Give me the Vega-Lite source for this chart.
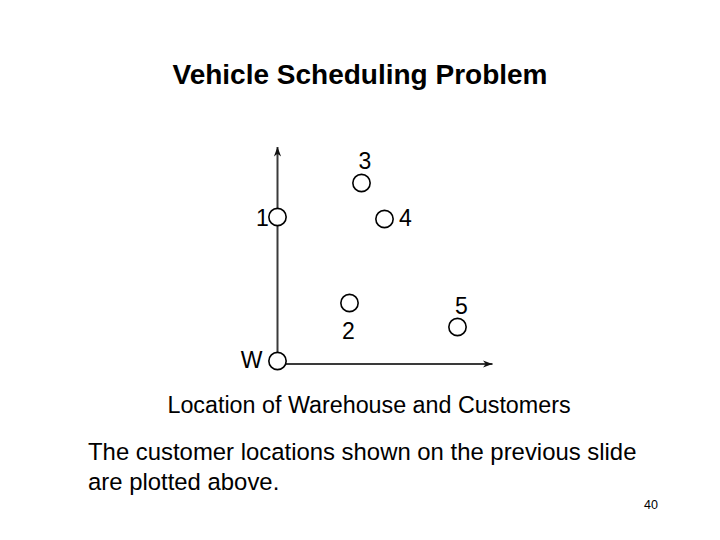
{
  "$schema": "https://vega.github.io/schema/vega-lite/v6.json",
  "width": 720,
  "height": 540,
  "autosize": {"type": "fit", "contains": "padding"},
  "padding": 0,
  "background": "white",
  "config": {"view": {"stroke": null}, "font": "Liberation Sans"},
  "datasets": {
    "points": [
      {"id": "W", "x": 0, "y": 0},
      {"id": "1", "x": 0, "y": 144},
      {"id": "2", "x": 72, "y": 58},
      {"id": "3", "x": 84, "y": 178},
      {"id": "4", "x": 107, "y": 142},
      {"id": "5", "x": 180, "y": 34}
    ],
    "axes": [
      {"axis": "y", "x0": 0, "y0": -3, "x1": 0, "y1": 214},
      {"axis": "x", "x0": 0, "y0": -3, "x1": 215, "y1": -3}
    ]
  },
  "layer": [
    {
      "data": {"name": "axes"},
      "mark": {"type": "rule", "color": "#3a3a3a", "strokeWidth": 2},
      "encoding": {
        "x": {"field": "x0", "type": "quantitative", "scale": {"domain": [-277.5, 442.5], "nice": false, "zero": false}, "axis": null},
        "y": {"field": "y0", "type": "quantitative", "scale": {"domain": [-179, 361], "nice": false, "zero": false}, "axis": null},
        "x2": {"field": "x1"},
        "y2": {"field": "y1"}
      }
    },
    {
      "data": {"name": "axes"},
      "mark": {"type": "point", "shape": "M0,0 L-0.38,1 L0,0.72 L0.38,1 Z", "filled": true, "color": "#111111", "size": 360, "opacity": 1},
      "encoding": {
        "x": {"field": "x1", "type": "quantitative", "scale": {"domain": [-277.5, 442.5], "nice": false, "zero": false}, "axis": null},
        "y": {"field": "y1", "type": "quantitative", "scale": {"domain": [-179, 361], "nice": false, "zero": false}, "axis": null},
        "angle": {"condition": {"test": "datum.axis === 'x'", "value": 90}, "value": 0}
      }
    },
    {
      "data": {"name": "points"},
      "mark": {"type": "point", "shape": "circle", "filled": false, "fill": "white", "fillOpacity": 1, "stroke": "black", "strokeWidth": 1.6, "size": 300, "opacity": 1},
      "encoding": {
        "x": {"field": "x", "type": "quantitative", "scale": {"domain": [-277.5, 442.5], "nice": false, "zero": false}, "axis": null},
        "y": {"field": "y", "type": "quantitative", "scale": {"domain": [-179, 361], "nice": false, "zero": false}, "axis": null}
      }
    },
    {
      "data": {"name": "points"},
      "transform": [{"filter": "datum.id === 'W'"}],
      "mark": {"type": "text", "font": "Liberation Sans", "fontSize": 23, "align": "center", "baseline": "alphabetic", "dx": -26, "dy": 7, "color": "black"},
      "encoding": {
        "x": {"field": "x", "type": "quantitative", "scale": {"domain": [-277.5, 442.5], "nice": false, "zero": false}, "axis": null},
        "y": {"field": "y", "type": "quantitative", "scale": {"domain": [-179, 361], "nice": false, "zero": false}, "axis": null},
        "text": {"field": "id"}
      }
    },
    {
      "data": {"name": "points"},
      "transform": [{"filter": "datum.id === '1'"}],
      "mark": {"type": "text", "font": "Liberation Sans", "fontSize": 23, "align": "center", "baseline": "alphabetic", "dx": -15, "dy": 8.5, "color": "black"},
      "encoding": {
        "x": {"field": "x", "type": "quantitative", "scale": {"domain": [-277.5, 442.5], "nice": false, "zero": false}, "axis": null},
        "y": {"field": "y", "type": "quantitative", "scale": {"domain": [-179, 361], "nice": false, "zero": false}, "axis": null},
        "text": {"field": "id"}
      }
    },
    {
      "data": {"name": "points"},
      "transform": [{"filter": "datum.id === '2'"}],
      "mark": {"type": "text", "font": "Liberation Sans", "fontSize": 23, "align": "center", "baseline": "alphabetic", "dx": -1, "dy": 35.5, "color": "black"},
      "encoding": {
        "x": {"field": "x", "type": "quantitative", "scale": {"domain": [-277.5, 442.5], "nice": false, "zero": false}, "axis": null},
        "y": {"field": "y", "type": "quantitative", "scale": {"domain": [-179, 361], "nice": false, "zero": false}, "axis": null},
        "text": {"field": "id"}
      }
    },
    {
      "data": {"name": "points"},
      "transform": [{"filter": "datum.id === '3'"}],
      "mark": {"type": "text", "font": "Liberation Sans", "fontSize": 23, "align": "center", "baseline": "alphabetic", "dx": 3.5, "dy": -14, "color": "black"},
      "encoding": {
        "x": {"field": "x", "type": "quantitative", "scale": {"domain": [-277.5, 442.5], "nice": false, "zero": false}, "axis": null},
        "y": {"field": "y", "type": "quantitative", "scale": {"domain": [-179, 361], "nice": false, "zero": false}, "axis": null},
        "text": {"field": "id"}
      }
    },
    {
      "data": {"name": "points"},
      "transform": [{"filter": "datum.id === '4'"}],
      "mark": {"type": "text", "font": "Liberation Sans", "fontSize": 23, "align": "center", "baseline": "alphabetic", "dx": 21, "dy": 6.5, "color": "black"},
      "encoding": {
        "x": {"field": "x", "type": "quantitative", "scale": {"domain": [-277.5, 442.5], "nice": false, "zero": false}, "axis": null},
        "y": {"field": "y", "type": "quantitative", "scale": {"domain": [-179, 361], "nice": false, "zero": false}, "axis": null},
        "text": {"field": "id"}
      }
    },
    {
      "data": {"name": "points"},
      "transform": [{"filter": "datum.id === '5'"}],
      "mark": {"type": "text", "font": "Liberation Sans", "fontSize": 23, "align": "center", "baseline": "alphabetic", "dx": 4, "dy": -13.5, "color": "black"},
      "encoding": {
        "x": {"field": "x", "type": "quantitative", "scale": {"domain": [-277.5, 442.5], "nice": false, "zero": false}, "axis": null},
        "y": {"field": "y", "type": "quantitative", "scale": {"domain": [-179, 361], "nice": false, "zero": false}, "axis": null},
        "text": {"field": "id"}
      }
    },
    {
      "data": {"values": [{"label": "Vehicle Scheduling Problem"}]},
      "mark": {"type": "text", "font": "Liberation Sans", "fontSize": 28, "fontWeight": "bold", "align": "center", "baseline": "alphabetic", "color": "black"},
      "encoding": {
        "x": {"datum": 82.5, "type": "quantitative", "scale": {"domain": [-277.5, 442.5], "nice": false, "zero": false}, "axis": null},
        "y": {"datum": 277, "type": "quantitative", "scale": {"domain": [-179, 361], "nice": false, "zero": false}, "axis": null},
        "text": {"field": "label"}
      }
    },
    {
      "data": {"values": [{"label": "Location of Warehouse and Customers"}]},
      "mark": {"type": "text", "font": "Liberation Sans", "fontSize": 23.3, "align": "center", "baseline": "alphabetic", "color": "black"},
      "encoding": {
        "x": {"datum": 91.5, "type": "quantitative", "scale": {"domain": [-277.5, 442.5], "nice": false, "zero": false}, "axis": null},
        "y": {"datum": -52, "type": "quantitative", "scale": {"domain": [-179, 361], "nice": false, "zero": false}, "axis": null},
        "text": {"field": "label"}
      }
    },
    {
      "data": {"values": [{"label": "The customer locations shown on the previous slide\nare plotted above."}]},
      "mark": {"type": "text", "font": "Liberation Sans", "fontSize": 23.9, "align": "left", "baseline": "alphabetic", "lineBreak": "\n", "lineHeight": 30, "color": "black"},
      "encoding": {
        "x": {"datum": -189.5, "type": "quantitative", "scale": {"domain": [-277.5, 442.5], "nice": false, "zero": false}, "axis": null},
        "y": {"datum": -99, "type": "quantitative", "scale": {"domain": [-179, 361], "nice": false, "zero": false}, "axis": null},
        "text": {"field": "label"}
      }
    },
    {
      "data": {"values": [{"label": "40"}]},
      "mark": {"type": "text", "font": "Liberation Sans", "fontSize": 12.5, "align": "right", "baseline": "alphabetic", "color": "black"},
      "encoding": {
        "x": {"datum": 380.5, "type": "quantitative", "scale": {"domain": [-277.5, 442.5], "nice": false, "zero": false}, "axis": null},
        "y": {"datum": -148, "type": "quantitative", "scale": {"domain": [-179, 361], "nice": false, "zero": false}, "axis": null},
        "text": {"field": "label"}
      }
    }
  ]
}
